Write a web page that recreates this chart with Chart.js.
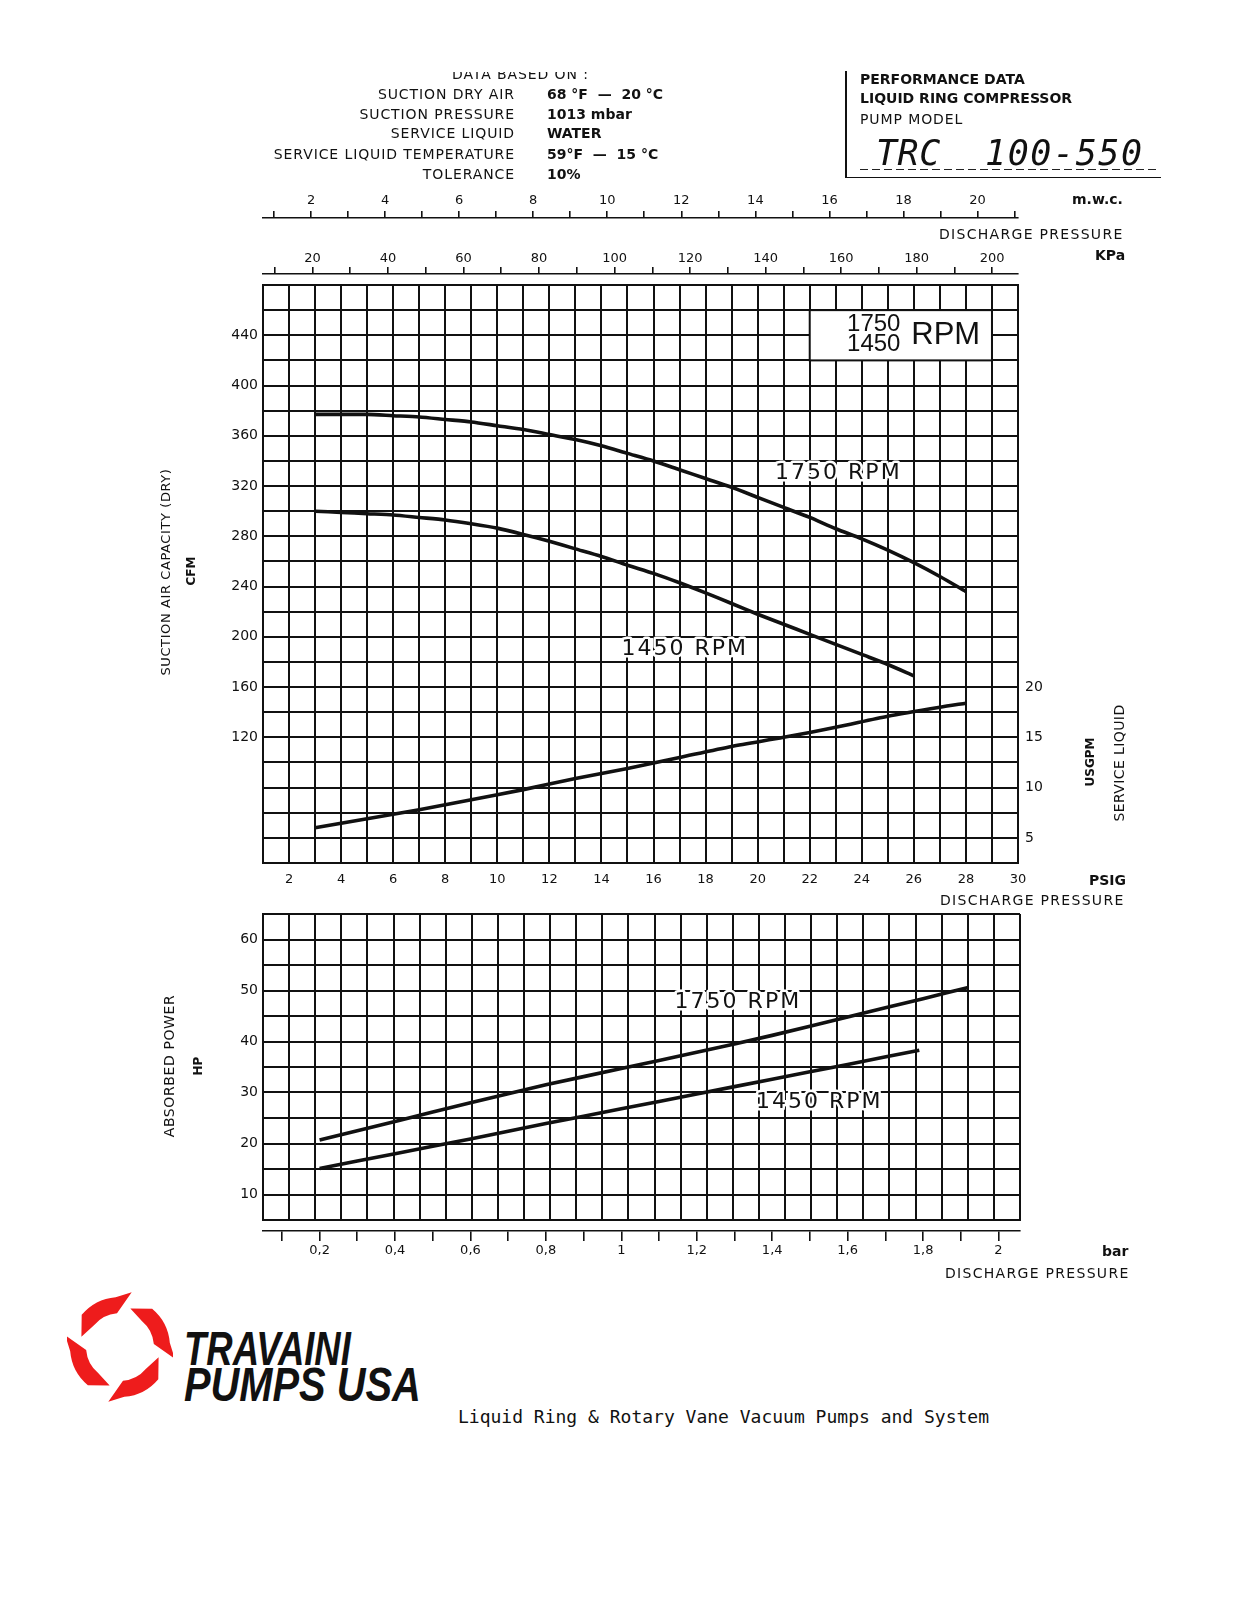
<!DOCTYPE html>
<html>
<head>
<meta charset="utf-8">
<title>TRC 100-550 performance data</title>
<script src="https://cdn.jsdelivr.net/npm/chart.js@4.4.1/dist/chart.umd.min.js"></script>
<style>
  html, body { margin: 0; padding: 0; background: #fff; }
  body { width: 1237px; height: 1600px; position: relative; overflow: hidden;
         font-family: 'DejaVu Sans', sans-serif; color: #111; }
  canvas { position: absolute; left: 0; }
  #main  { top: 0; }
  #power { top: 900px; }
  .t   { position: absolute; white-space: nowrap; font-size: 14px; line-height: 14px; letter-spacing: 0.9px; z-index: 2; }
  .b   { font-weight: bold; letter-spacing: 0; }
  .rot { transform-origin: 0 0; transform: rotate(-90deg) translate(-50%, -50%); }
</style>
</head>
<body>

<!-- header, left block -->
<div style="position:absolute;left:440px;top:71.5px;width:200px;height:9px;overflow:hidden;">
  <div class="t" style="left:12px;top:-5px;">DATA BASED ON :</div>
</div>
<div class="t" style="right:722px;top:86.5px;">SUCTION DRY AIR</div>
<div class="t" style="right:722px;top:106.5px;">SUCTION PRESSURE</div>
<div class="t" style="right:722px;top:126px;">SERVICE LIQUID</div>
<div class="t" style="right:722px;top:147.2px;">SERVICE LIQUID TEMPERATURE</div>
<div class="t" style="right:722px;top:167.2px;">TOLERANCE</div>
<div class="t b" style="left:547px;top:86.5px;">68 °F &nbsp;— &nbsp;20 °C</div>
<div class="t b" style="left:547px;top:106.5px;">1013 mbar</div>
<div class="t b" style="left:547px;top:126px;">WATER</div>
<div class="t b" style="left:547px;top:147.2px;">59°F &nbsp;— &nbsp;15 °C</div>
<div class="t b" style="left:547px;top:167.2px;">10%</div>

<!-- header, right block -->
<div style="position:absolute;left:845px;top:71px;width:1.6px;height:107px;background:#111;"></div>
<div style="position:absolute;left:845px;top:176.5px;width:316px;height:1.6px;background:#111;"></div>
<div class="t b" style="left:860px;top:71.8px;">PERFORMANCE DATA</div>
<div class="t b" style="left:860px;top:91.2px;">LIQUID RING COMPRESSOR</div>
<div class="t" style="left:860px;top:111.6px;">PUMP MODEL</div>
<div class="t" style="left:876px;top:135.6px;font:italic 35px/35px 'DejaVu Sans Mono',monospace;letter-spacing:0.5px;">TRC</div>
<div class="t" style="left:985px;top:135.6px;font:italic 35px/35px 'DejaVu Sans Mono',monospace;letter-spacing:1.6px;">100-550</div>
<div style="position:absolute;left:860px;top:168.5px;width:298px;height:1.5px;
            background:repeating-linear-gradient(to right,#222 0 8px,transparent 8px 12px);"></div>

<!-- axis units and titles -->
<div class="t b" style="left:1072px;top:192.3px;">m.w.c.</div>
<div class="t" style="left:939px;top:227px;letter-spacing:1.3px;">DISCHARGE PRESSURE</div>
<div class="t b" style="left:1095px;top:248.3px;">KPa</div>
<div class="t b" style="left:1089px;top:873.3px;">PSIG</div>
<div class="t" style="left:940px;top:893.3px;letter-spacing:1.3px;">DISCHARGE PRESSURE</div>
<div class="t b" style="left:1102px;top:1244.3px;">bar</div>
<div class="t" style="left:945px;top:1266px;letter-spacing:1.3px;">DISCHARGE PRESSURE</div>

<div class="t rot" style="left:166px;top:572px;font-size:13px;letter-spacing:0.6px;">SUCTION AIR CAPACITY (DRY)</div>
<div class="t b rot" style="left:191px;top:571px;font-size:12px;">CFM</div>
<div class="t rot" style="left:1119px;top:763px;font-size:14px;letter-spacing:0.4px;">SERVICE LIQUID</div>
<div class="t b rot" style="left:1090px;top:762px;font-size:12px;">USGPM</div>
<div class="t rot" style="left:169px;top:1066px;font-size:14px;letter-spacing:0.6px;">ABSORBED POWER</div>
<div class="t b rot" style="left:198px;top:1066px;font-size:12px;">HP</div>

<canvas id="main" width="1237" height="900"></canvas>
<canvas id="power" width="1237" height="400"></canvas>

<!-- logo -->
<svg style="position:absolute;left:67px;top:1292px;" width="106" height="110" viewBox="-53 -55 106 110">
  <g fill="#ee1c1c" transform="rotate(10)">
    <path id="blade" d="M -39.8 -3.5 L -43.3 -25 A 50 50 0 0 1 -12.9 -48.3 L 2 -56 L -8.8 -32.8 A 34 34 0 0 0 -29.4 -17 Z"/>
    <use href="#blade" transform="rotate(90)"/>
    <use href="#blade" transform="rotate(180)"/>
    <use href="#blade" transform="rotate(270)"/>
  </g>
</svg>
<div class="t" style="left:184px;top:1324.6px;font:italic bold 48px/48px 'Liberation Sans',Arial,sans-serif;letter-spacing:0;transform-origin:0 0;transform:scaleX(0.76);">TRAVAINI</div>
<div class="t" style="left:184px;top:1361px;font:italic bold 48px/48px 'Liberation Sans',Arial,sans-serif;letter-spacing:0;transform-origin:0 0;transform:scaleX(0.83);">PUMPS USA</div>
<div class="t" style="left:458px;top:1408px;font:18px/18px 'DejaVu Sans Mono',monospace;letter-spacing:0;">Liquid Ring &amp; Rotary Vane Vacuum Pumps and System</div>

<script>
'use strict';

// ── Data ─────────────────────────────────────────────────────────────────────

// suction air capacity (CFM) against discharge pressure (PSIG)
const psig1750 = [3, 4, 5, 6, 7, 8, 9, 10, 11, 12, 13, 14, 15, 16, 17, 18, 19, 20, 21, 22, 23, 24, 25, 26, 27, 28];
const cfm1750  = [377, 377, 377, 376, 375, 373, 371, 368, 365, 361, 357, 352, 346, 340, 333, 326, 319, 311, 303, 295, 286, 278, 269, 259, 248, 236];
const psig1450 = [3, 4, 5, 6, 7, 8, 9, 10, 11, 12, 13, 14, 15, 16, 17, 18, 19, 20, 21, 22, 23, 24, 25, 26];
const cfm1450  = [300, 299, 298, 297, 295, 293, 290, 286.5, 281.5, 276, 270, 264, 257, 250.5, 243, 235, 226.5, 218, 210, 202, 194, 186, 178, 169];

// service liquid (USGPM, right axis)
const psigWater  = [3, 5, 7, 9, 11, 13, 15, 17, 19, 21, 23, 25, 27, 28];
const usgpmWater = [6.0, 6.9, 7.8, 8.8, 9.8, 10.9, 11.9, 13.0, 14.1, 15.0, 16.0, 17.1, 18.0, 18.4];

// absorbed power (HP) against discharge pressure (bar)
const bar1750 = [0.2, 0.4, 0.6, 0.8, 1.0, 1.2, 1.4, 1.6, 1.8, 1.92];
const hp1750  = [20.7, 24.3, 28.0, 31.5, 34.7, 37.9, 41.2, 44.8, 48.4, 50.6];
const bar1450 = [0.2, 0.4, 0.6, 0.8, 1.0, 1.2, 1.4, 1.6, 1.79];
const hp1450  = [15.1, 18.0, 20.9, 23.9, 26.8, 29.7, 32.6, 35.5, 38.3];

// tick labels
const psigTicks  = [2, 4, 6, 8, 10, 12, 14, 16, 18, 20, 22, 24, 26, 28, 30];
const mwcTicks   = [2, 4, 6, 8, 10, 12, 14, 16, 18, 20];
const kpaTicks   = [20, 40, 60, 80, 100, 120, 140, 160, 180, 200];
const cfmTicks   = [120, 160, 200, 240, 280, 320, 360, 400, 440];
const usgpmTicks = [5, 10, 15, 20];
const hpTicks    = [10, 20, 30, 40, 50, 60];
const barTicks   = [0.2, 0.4, 0.6, 0.8, 1, 1.2, 1.4, 1.6, 1.8, 2];
const barText    = ['0,2', '0,4', '0,6', '0,8', '1', '1,2', '1,4', '1,6', '1,8', '2'];

// unit conversions for the companion pressure scales
const MWC_PER_PSI = 0.70307;
const KPA_PER_PSI = 6.89476;
const BAR_MIN = 0.05, BAR_MAX = 2.057;

// ── Styling helpers ───────────────────────────────────────────────────────────

const INK = '#111';
const FONT = "'DejaVu Sans', sans-serif";
Chart.defaults.font.family = FONT;
Chart.defaults.color = INK;

const pairs = (xs, ys) => xs.map((x, i) => ({ x, y: ys[i] }));
const curve = ds => Object.assign({
  borderColor: INK, borderWidth: 3.6, pointRadius: 0, tension: 0.25, fill: false,
}, ds);
const fixH = h => s => { s.height = h; };
const fixW = w => s => { s.width = w; };
const near = (list, v) => list.findIndex(t => Math.abs(t - v) < 1e-6);
const only = list => v => (near(list, v) >= 0 ? String(v) : '');
// minor tick marks every `d` between a and b (labels come from the lists above)
const marks = (a, b, d) => s => {
  const n = Math.round((b - a) / d);
  s.ticks = Array.from({ length: n + 1 }, (_, i) => ({ value: +(a + i * d).toFixed(4) }));
};

const gridLines = { color: INK, lineWidth: 2, drawTicks: false };
const tickMarks = len => ({ drawOnChartArea: false, drawTicks: true, tickLength: len, color: INK, lineWidth: 1.6 });

// ── Curve labels and the speed legend box ────────────────────────────────────

const rpmLabels = {
  id: 'rpmLabels',
  afterDatasetsDraw(chart, args, opts) {
    const { ctx } = chart;
    const xs = chart.scales[opts.xAxis], ys = chart.scales[opts.yAxis];
    ctx.save();
    if (opts.box) {
      const b = opts.box;
      const L = xs.getPixelForValue(b.x0), R = xs.getPixelForValue(b.x1);
      const T = ys.getPixelForValue(b.y1), B = ys.getPixelForValue(b.y0);
      ctx.fillStyle = '#fff';
      ctx.fillRect(L, T, R - L, B - T);
      ctx.strokeStyle = INK; ctx.lineWidth = 2;
      ctx.strokeRect(L, T, R - L, B - T);
      ctx.fillStyle = INK;
      ctx.textAlign = 'center'; ctx.textBaseline = 'middle';
      ctx.font = "24px 'Liberation Sans', Arial, sans-serif";
      ctx.fillText('1750', L + 64, T + 14);
      ctx.fillText('1450', L + 64, T + 34);
      ctx.font = "31px 'Liberation Sans', Arial, sans-serif";
      ctx.fillText('RPM', L + 136, T + 25);
    }
    ctx.font = '22px ' + FONT;
    ctx.letterSpacing = '2px';
    ctx.textAlign = 'center'; ctx.textBaseline = 'middle';
    ctx.lineJoin = 'round';
    for (const it of opts.items) {
      const px = xs.getPixelForValue(it.x), py = ys.getPixelForValue(it.y);
      ctx.strokeStyle = '#fff'; ctx.lineWidth = 5;
      ctx.strokeText(it.text, px, py);
      ctx.fillStyle = INK;
      ctx.fillText(it.text, px, py);
    }
    ctx.letterSpacing = '0px';
    ctx.restore();
  },
};

// ── Capacity / service liquid chart ──────────────────────────────────────────

new Chart(document.getElementById('main'), {
  type: 'line',
  data: {
    datasets: [
      { label: '1750 RPM', data: pairs(psig1750, cfm1750), xAxisID: 'x', yAxisID: 'y' },
      { label: '1450 RPM', data: pairs(psig1450, cfm1450), xAxisID: 'x', yAxisID: 'y' },
      { label: 'Service liquid', data: pairs(psigWater, usgpmWater), xAxisID: 'x', yAxisID: 'y2' },
    ].map(curve),
  },
  options: {
    responsive: false,
    animation: false,
    layout: { padding: { left: 203, right: 179, top: 178, bottom: 7 } },
    plugins: {
      legend: { display: false },
      tooltip: { enabled: false },
      rpmLabels: {
        xAxis: 'x', yAxis: 'y',
        box: { x0: 22, x1: 29, y0: 420, y1: 460 },
        items: [
          { text: '1750 RPM', x: 23.1, y: 330 },
          { text: '1450 RPM', x: 17.2, y: 190 },
        ],
      },
    },
    scales: {
      x: {
        type: 'linear', position: 'bottom', min: 1, max: 30,
        ticks: { autoSkip: false, maxRotation: 0, padding: 9, font: { size: 13 }, callback: only(psigTicks) },
        afterBuildTicks: marks(1, 30, 1),
        grid: gridLines, border: { color: INK, width: 2 },
        afterFit: fixH(30),
      },
      gap: {
        type: 'linear', position: 'top', weight: 0, min: 1, max: 30,
        ticks: { display: false }, grid: { display: false }, border: { display: false },
        afterFit: fixH(11),
      },
      kpa: {
        type: 'linear', position: 'top', weight: 1, min: KPA_PER_PSI, max: 30 * KPA_PER_PSI,
        ticks: { autoSkip: false, maxRotation: 0, padding: 1, font: { size: 13 }, callback: only(kpaTicks) },
        afterBuildTicks: marks(10, 200, 10),
        grid: tickMarks(7), border: { color: INK, width: 1.6 },
        afterFit: fixH(56),
      },
      mwc: {
        type: 'linear', position: 'top', weight: 2, min: MWC_PER_PSI, max: 30 * MWC_PER_PSI,
        ticks: { autoSkip: false, maxRotation: 0, padding: 3, font: { size: 13 }, callback: only(mwcTicks) },
        afterBuildTicks: marks(1, 21, 1),
        grid: tickMarks(7), border: { color: INK, width: 1.6 },
        afterFit: fixH(40),
      },
      y: {
        type: 'linear', position: 'left', min: 20, max: 480,
        ticks: { autoSkip: false, padding: 5, font: { size: 14 }, callback: only(cfmTicks) },
        afterBuildTicks: marks(20, 480, 20),
        grid: gridLines, border: { color: INK, width: 2 },
        afterFit: fixW(60),
      },
      y2: {
        type: 'linear', position: 'right', min: 2.5, max: 60,
        ticks: { autoSkip: false, padding: 7, font: { size: 14 }, callback: only(usgpmTicks) },
        afterBuildTicks: marks(2.5, 60, 2.5),
        grid: { drawOnChartArea: false, drawTicks: false }, border: { color: INK, width: 2 },
        afterFit: fixW(40),
      },
    },
  },
  plugins: [rpmLabels],
});

// ── Absorbed power chart ─────────────────────────────────────────────────────

new Chart(document.getElementById('power'), {
  type: 'line',
  data: {
    datasets: [
      { label: '1750 RPM', data: pairs(bar1750, hp1750), xAxisID: 'bar', yAxisID: 'y' },
      { label: '1450 RPM', data: pairs(bar1450, hp1450), xAxisID: 'bar', yAxisID: 'y' },
    ].map(curve),
  },
  options: {
    responsive: false,
    animation: false,
    layout: { padding: { left: 203, right: 217, top: 14, bottom: 24 } },
    plugins: {
      legend: { display: false },
      tooltip: { enabled: false },
      rpmLabels: {
        xAxis: 'bar', yAxis: 'y',
        items: [
          { text: '1750 RPM', x: 1.309, y: 47.7 },
          { text: '1450 RPM', x: 1.525, y: 28.1 },
        ],
      },
    },
    scales: {
      xg: {
        type: 'linear', position: 'bottom', weight: 0, min: 1, max: 30,
        ticks: { display: false, autoSkip: false },
        afterBuildTicks: marks(1, 30, 1),
        grid: gridLines, border: { color: INK, width: 2 },
        afterFit: fixH(11),
      },
      bar: {
        type: 'linear', position: 'bottom', weight: 1, min: BAR_MIN, max: BAR_MAX,
        ticks: {
          autoSkip: false, maxRotation: 0, padding: 2, font: { size: 13 },
          callback: v => { const i = near(barTicks, v); return i >= 0 ? barText[i] : ''; },
        },
        afterBuildTicks: marks(0.1, 2, 0.1),
        grid: tickMarks(10), border: { color: INK, width: 1.6 },
        afterFit: fixH(45),
      },
      y: {
        type: 'linear', position: 'left', min: 5, max: 65,
        ticks: { autoSkip: false, padding: 5, font: { size: 14 }, callback: only(hpTicks) },
        afterBuildTicks: marks(5, 65, 5),
        grid: gridLines, border: { color: INK, width: 2 },
        afterFit: fixW(60),
      },
    },
  },
  plugins: [rpmLabels],
});
</script>
</body>
</html>
